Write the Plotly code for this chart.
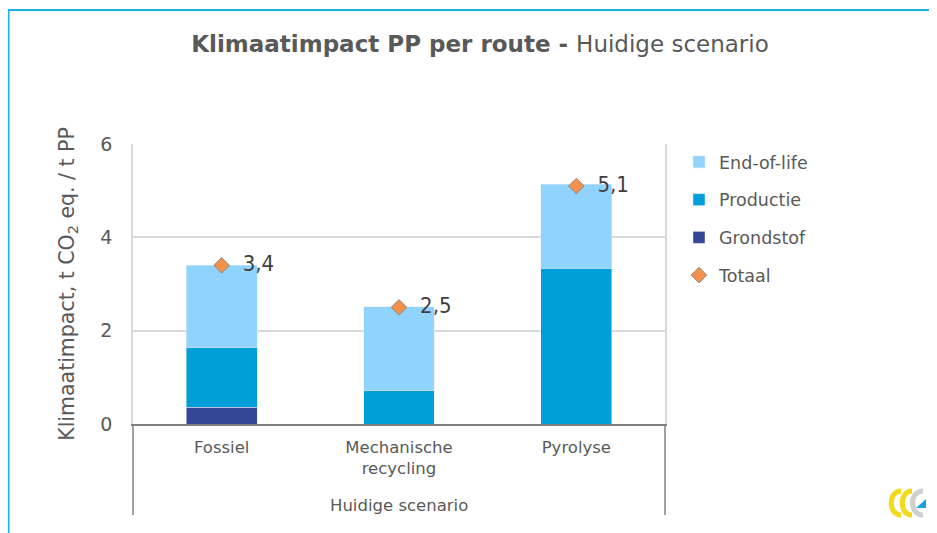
import plotly.graph_objects as go

routes = ["Fossiel", "Mechanische<br>recycling", "Pyrolyse"]
scenario = "Huidige scenario"
grondstof = [0.36, 0.0, 0.0]
productie = [1.27, 0.71, 3.34]
end_of_life = [1.77, 1.80, 1.80]
totaal = [3.4, 2.5, 5.1]

FONT = "DejaVu Sans, sans-serif"
FONT_NUM = "DejaVu Sans Condensed, DejaVu Sans, sans-serif"
GREY = "#595959"

# page is drawn with an 8px body margin, so plot area is 133..665 x 144..424 on screen
def px(x_page):
    return (x_page - 133) / 532

def py(y_page):
    return (424 - y_page) / 280

fig = go.Figure()
fig.add_trace(go.Bar(x=routes, y=grondstof, name="Grondstof", marker_color="#344796",
                     legendrank=3, legendgroup="g"))
fig.add_trace(go.Bar(x=routes, y=productie, name="Productie", marker_color="#009FDA",
                     legendrank=2, legendgroup="p"))
fig.add_trace(go.Bar(x=routes, y=end_of_life, name="End-of-life", marker_color="#8FD3FE",
                     legendrank=1, legendgroup="e"))
fig.add_trace(go.Scatter(
    x=routes, y=totaal, name="Totaal", mode="markers+text", legendrank=4, legendgroup="t",
    marker=dict(symbol="diamond", size=12, color="#F2914A", line=dict(color="#8C8C8C", width=1)),
    text=["\u00a0\u00a0" + f"{v:.1f}".replace(".", ",") for v in totaal],
    textposition="middle right",
    textfont=dict(size=22, color="#404040", family=FONT_NUM),
))

fig.update_layout(
    width=937, height=533,
    barmode="stack", bargap=0.6,
    plot_bgcolor="white", paper_bgcolor="white",
    margin=dict(l=125, r=280, t=136, b=117),
    font=dict(family=FONT, color=GREY, size=16),
    title=dict(
        text="<b>Klimaatimpact PP per route - </b>Huidige scenario",
        x=472 / 937, xref="container", xanchor="center",
        y=1 - 36 / 533, yref="container", yanchor="middle",
        font=dict(size=23, color=GREY, family=FONT),
    ),
    legend=dict(
        x=px(679), y=1.0, xanchor="left", yanchor="top",
        font=dict(size=17.5, color=GREY, family=FONT),
        itemwidth=30, traceorder="grouped", tracegroupgap=12,
    ),
    showlegend=True,
)

fig.update_yaxes(
    range=[0, 6], dtick=2, showgrid=True, gridcolor="#D9D9D9", gridwidth=1.5,
    showline=True, linecolor="#D9D9D9", linewidth=1.5, mirror=True,
    zeroline=False, ticks="", tickfont=dict(size=19, color=GREY),
    ticklabelstandoff=15,
    title=dict(text="Klimaatimpact, t CO<sub>2</sub> eq. / t PP",
               font=dict(size=20.5, color=GREY), standoff=20),
)
fig.update_xaxes(
    showline=True, linecolor="#808080", linewidth=1.5,
    ticks="", tickfont=dict(size=16.5, color=GREY), ticklabelstandoff=7,
)

# outer category group label with its dividers
fig.add_annotation(text=scenario, xref="paper", yref="paper", x=0.5, y=py(505),
                   showarrow=False, font=dict(size=16.5, color=GREY), yanchor="middle")
for xd in (0, 1):
    fig.add_shape(type="line", xref="paper", yref="paper", x0=xd, x1=xd, y0=0, y1=py(515),
                  line=dict(color="#808080", width=1.5))

# outer frame of the slide panel
fig.add_shape(type="rect", xref="paper", yref="paper",
              x0=px(8.5), x1=2, y0=-1, y1=py(10),
              line=dict(color="#1AB0E8", width=2), layer="below")

# small logo bottom right
def c_path(x0, x1, top, bot):
    return (f"M {px(x1)},{py(top)} C {px(x0)},{py(top)} {px(x0)},{py(bot)} {px(x1)},{py(bot)}")

fig.add_shape(type="path", xref="paper", yref="paper", path=c_path(888, 901, 491, 515),
              line=dict(color="#F2DA1A", width=5))
fig.add_shape(type="path", xref="paper", yref="paper", path=c_path(899, 912, 491, 515),
              line=dict(color="#F2DA1A", width=5))
fig.add_shape(type="path", xref="paper", yref="paper", path=c_path(909, 923, 491, 515),
              line=dict(color="#CFCFCF", width=5))
fig.add_shape(type="path", xref="paper", yref="paper",
              path=f"M {px(916)},{py(508)} L {px(926)},{py(499)} L {px(926)},{py(508)} Z",
              fillcolor="#1AA3E8", line=dict(width=0))

fig.write_html("out.html")
